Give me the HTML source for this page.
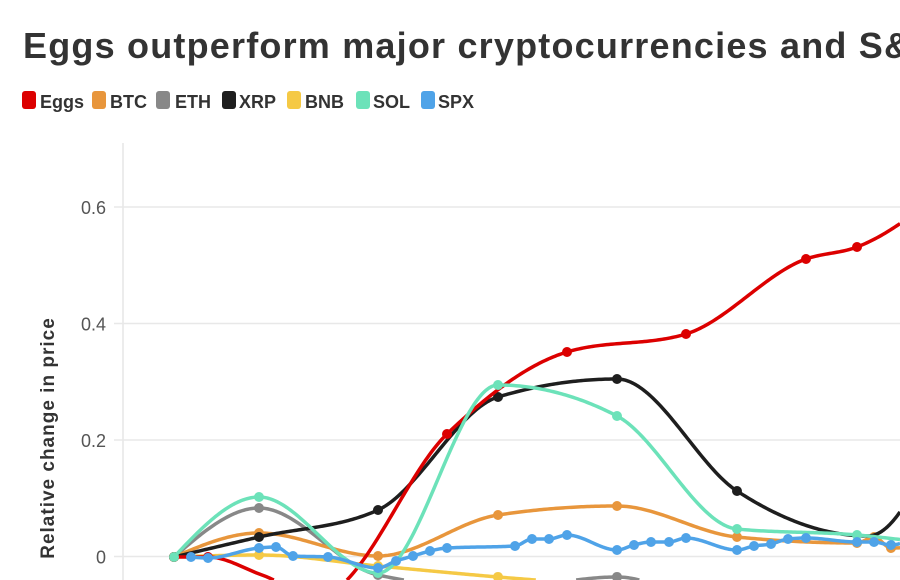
<!DOCTYPE html>
<html>
<head>
<meta charset="utf-8">
<style>
  html,body{margin:0;padding:0;background:#fff;width:900px;height:580px;overflow:hidden;}
  svg{display:block;overflow:hidden;}
  text{font-family:"Liberation Sans",Arial,sans-serif;}
</style>
</head>
<body>
<svg id="chart" width="900" height="580" viewBox="0 0 900 580" xmlns="http://www.w3.org/2000/svg">
  <rect width="900" height="580" fill="#fff"/>
  <text x="23" y="58" font-size="36" font-weight="bold" fill="#333" letter-spacing="1.2">Eggs outperform major cryptocurrencies and S&amp;</text>

  <!-- legend -->
  <g font-size="18" font-weight="bold" fill="#333">
    <rect x="22" y="91" width="14" height="18" rx="3" fill="#dc0000"/><text x="40" y="108">Eggs</text>
    <rect x="92" y="91" width="14" height="18" rx="3" fill="#e8963c"/><text x="110" y="108">BTC</text>
    <rect x="156" y="91" width="14" height="18" rx="3" fill="#888888"/><text x="175" y="108">ETH</text>
    <rect x="222" y="91" width="14" height="18" rx="3" fill="#1e1e1e"/><text x="239" y="108">XRP</text>
    <rect x="287" y="91" width="14" height="18" rx="3" fill="#f5c945"/><text x="305" y="108">BNB</text>
    <rect x="356" y="91" width="14" height="18" rx="3" fill="#6ce2b9"/><text x="373" y="108">SOL</text>
    <rect x="421" y="91" width="14" height="18" rx="3" fill="#4fa3e8"/><text x="438" y="108">SPX</text>
  </g>

  <!-- grid -->
  <g stroke="#e8e8e8" stroke-width="1.6">
    <line x1="114" y1="207" x2="900" y2="207"/>
    <line x1="114" y1="323.5" x2="900" y2="323.5"/>
    <line x1="114" y1="440" x2="900" y2="440"/>
    <line x1="114" y1="556.5" x2="900" y2="556.5"/>
    <line x1="123" y1="143" x2="123" y2="580"/>
  </g>
  <g font-size="18" fill="#555" text-anchor="end">
    <text x="106" y="214">0.6</text>
    <text x="106" y="330.5">0.4</text>
    <text x="106" y="447">0.2</text>
    <text x="106" y="563.5">0</text>
  </g>
  <text transform="translate(54,438) rotate(-90)" text-anchor="middle" font-size="19" font-weight="bold" fill="#333" letter-spacing="1">Relative change in price</text>

  <g id="series"></g>
</svg>
<script>
(function(){
  var YMAX=580, XMAX=900;
  function sign(x){return x<0?-1:1;}
  function slope3(p0,p1,p2){
    var h0=p1[0]-p0[0], h1=p2[0]-p1[0];
    var s0=(p1[1]-p0[1])/(h0||1e-9), s1=(p2[1]-p1[1])/(h1||1e-9);
    var p=(s0*h1+s1*h0)/(h0+h1);
    return (sign(s0)+sign(s1))*Math.min(Math.abs(s0),Math.abs(s1),0.5*Math.abs(p))||0;
  }
  function slope2(p0,p1,t){
    var h=p1[0]-p0[0];
    return h?(3*(p1[1]-p0[1])/h-t)/2:t;
  }
  function monoPts(pts){
    var n=pts.length, out=[];
    if(n===2){return [[pts[0][0],pts[0][1]],[pts[1][0],pts[1][1]]];}
    var t=new Array(n);
    for(var i=1;i<n-1;i++) t[i]=slope3(pts[i-1],pts[i],pts[i+1]);
    t[0]=slope2(pts[0],pts[1],t[1]);
    t[n-1]=slope2(pts[n-2],pts[n-1],t[n-2]);
    out.push([pts[0][0],pts[0][1]]);
    for(var j=0;j<n-1;j++){
      var a=pts[j], b=pts[j+1], dx=(b[0]-a[0])/3;
      var c1=[a[0]+dx,a[1]+dx*t[j]], c2=[b[0]-dx,b[1]-dx*t[j+1]];
      var steps=Math.max(6,Math.ceil((b[0]-a[0])/2));
      for(var k=1;k<=steps;k++){
        var u=k/steps, v=1-u;
        var x=v*v*v*a[0]+3*v*v*u*c1[0]+3*v*u*u*c2[0]+u*u*u*b[0];
        var y=v*v*v*a[1]+3*v*v*u*c1[1]+3*v*u*u*c2[1]+u*u*u*b[1];
        out.push([x,y]);
      }
    }
    return out;
  }
  function clipLines(lines, inside, inter){
    var res=[];
    lines.forEach(function(pl){
      var cur=[];
      for(var i=0;i<pl.length;i++){
        var p=pl[i], pin=inside(p);
        if(i>0){
          var q=pl[i-1], qin=inside(q);
          if(qin && !pin){ cur.push(inter(q,p)); res.push(cur); cur=[]; }
          else if(!qin && pin){ cur=[inter(q,p)]; }
        }
        if(pin) cur.push(p);
      }
      if(cur.length>1) res.push(cur);
    });
    return res.filter(function(l){return l.length>1;});
  }
  function clipY(lines){
    return clipLines(lines,function(p){return p[1]<=YMAX;},function(a,b){
      var f=(YMAX-a[1])/(b[1]-a[1]); return [a[0]+(b[0]-a[0])*f,YMAX];});
  }
  function clipX(lines){
    return clipLines(lines,function(p){return p[0]<=XMAX;},function(a,b){
      var f=(XMAX-a[0])/(b[0]-a[0]); return [XMAX,a[1]+(b[1]-a[1])*f];});
  }
  function toPath(lines){
    var d="";
    lines.forEach(function(l){
      d+="M"+l[0][0].toFixed(2)+","+l[0][1].toFixed(2);
      for(var i=1;i<l.length;i++) d+="L"+l[i][0].toFixed(2)+","+l[i][1].toFixed(2);
    });
    return d;
  }
  function marker(cx,cy,r,c){
    if(cy+r<=YMAX && cx+r<=XMAX)
      return '<circle cx="'+cx+'" cy="'+cy+'" r="'+r+'" fill="'+c+'"/>';
    if(cy-r>=YMAX || cx-r>=XMAX) return "";
    var pts=[];
    for(var i=0;i<36;i++){
      var a=i/36*Math.PI*2;
      pts.push([Math.min(cx+r*Math.cos(a),XMAX),Math.min(cy+r*Math.sin(a),YMAX)]);
    }
    return '<polygon points="'+pts.map(function(p){return p[0].toFixed(2)+","+p[1].toFixed(2);}).join(" ")+'" fill="'+c+'"/>';
  }
  var series=[
    {c:"#f5c945",p:[[174,557],[259,555],[378,566],[498,577],[617,586],[737,595]]},
    {c:"#888888",p:[[174,557],[259,508],[378,575],[498,588,1],[617,577],[737,610,1],[857,600,1]]},
    {c:"#e8963c",p:[[174,557],[259,533],[378,556],[498,515],[617,506],[737,537],[857,543],[874,537],[891,548],[930,545,1]]},
    {c:"#1e1e1e",p:[[174,557],[259,537],[378,510],[498,397],[617,379],[737,491],[868,536,1],[985,300,1]]},
    {c:"#dc0000",p:[[174,557],[208,557],[262,575,1],[318,596,1],[447,434],[567,352],[686,334],[806,259],[857,247],[977,160,1]]},
    {c:"#6ce2b9",p:[[174,557],[259,497],[378,573],[498,385],[617,416],[737,529],[857,535],[977,550,1]]},
    {c:"#4fa3e8",p:[[191,557],[208,558],[259,548],[276,547],[293,556],[328,557],[378,568],[396,561],[413,556],[430,551],[447,548],[515,546],[532,539],[549,539],[567,535],[617,550],[634,545],[651,542],[669,542],[686,538],[737,550],[754,546],[771,544],[788,539],[806,538],[857,542],[874,542],[891,545],[908,541]]}
  ];
  var g=document.getElementById("series"), html="";
  series.forEach(function(s){
    var lines=clipX(clipY([monoPts(s.p)]));
    html+='<path d="'+toPath(lines)+'" fill="none" stroke="'+s.c+'" stroke-width="3.5" stroke-linejoin="round" stroke-linecap="butt"/>';
    s.p.forEach(function(q){
      if(!q[2] && q[0]<=900 && q[1]<=584) html+=marker(q[0],q[1],5,s.c);
    });
  });
  g.innerHTML=html;
})();
</script>
</body>
</html>
